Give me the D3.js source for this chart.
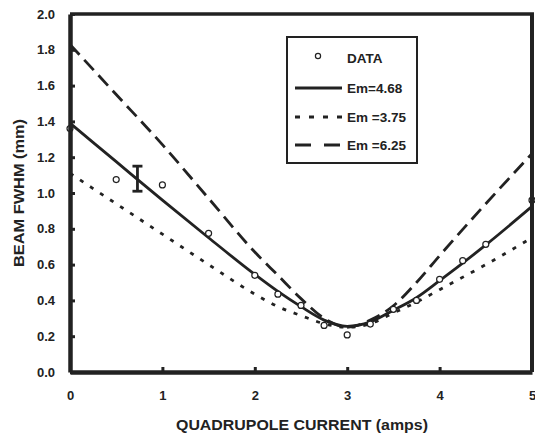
<!DOCTYPE html>
<html>
<head>
<meta charset="utf-8">
<script src="https://cdn.jsdelivr.net/npm/d3@7"></script>
<style>
  html, body { margin: 0; padding: 0; background: #fff; }
  text { font-family: "Liberation Sans", Arial, sans-serif; font-weight: bold; fill: #222; }
</style>
</head>
<body>
<div id="chart"></div>
<script>
// measured points
const dataX = [0, 0.5, 1.0, 1.5, 2.0, 2.25, 2.5, 2.75, 3.0, 3.25, 3.5, 3.75, 4.0, 4.25, 4.5, 5.0];
const dataY = [1.36, 1.075, 1.045, 0.775, 0.54, 0.435, 0.372, 0.26, 0.207, 0.268, 0.35, 0.4, 0.518, 0.622, 0.713, 0.96];

// one error bar
const errX = 0.73;
const errLo = 1.01;
const errHi = 1.15;

// fitted curves
const curveX = [0, 0.5, 1.0, 1.5, 2.0, 2.25, 2.5, 2.75, 3.0, 3.25, 3.5, 3.75, 4.0, 4.5, 5.0];
const em468 = [1.39, 1.175, 0.96, 0.75, 0.545, 0.45, 0.365, 0.29, 0.255, 0.28, 0.345, 0.415, 0.51, 0.71, 0.925];
const em375 = [1.11, 0.94, 0.77, 0.6, 0.435, 0.365, 0.315, 0.27, 0.25, 0.27, 0.33, 0.39, 0.46, 0.6, 0.75];
const em625 = [1.83, 1.55, 1.27, 0.97, 0.67, 0.54, 0.41, 0.3, 0.25, 0.29, 0.37, 0.5, 0.65, 0.94, 1.22];

const xTicks = [0, 1, 2, 3, 4, 5];
const yTicks = [0, 0.2, 0.4, 0.6, 0.8, 1.0, 1.2, 1.4, 1.6, 1.8, 2.0];

const series = [
    {name: "Em=4.68", values: em468, dash: null, legendDash: null},
    {name: "Em =3.75", values: em375, dash: "4,8", legendDash: "5,9"},
    {name: "Em =6.25", values: em625, dash: "14,7", legendDash: "16,13"}
];

const W = 535, H = 437;
const svg = d3.select("#chart").append("svg")
    .attr("width", W)
    .attr("height", H);

const x = d3.scaleLinear().domain([0, 5]).range([70, 532]);
const y = d3.scaleLinear().domain([0, 2]).range([372, 14]);

// curves
const line = d3.line()
    .x((d, i) => x(curveX[i]))
    .y(d => y(d))
    .curve(d3.curveMonotoneX);

series.forEach(s => {
    svg.append("path")
        .attr("d", line(s.values))
        .attr("fill", "none")
        .attr("stroke", "#222")
        .attr("stroke-width", 2.8)
        .attr("stroke-dasharray", s.dash);
});

// error bar
const eg = svg.append("g").attr("stroke", "#222");
eg.append("line")
    .attr("x1", x(errX)).attr("x2", x(errX))
    .attr("y1", y(errLo)).attr("y2", y(errHi))
    .attr("stroke-width", 2.8);
[errLo, errHi].forEach(v => {
    eg.append("line")
        .attr("x1", x(errX) - 5).attr("x2", x(errX) + 5)
        .attr("y1", y(v)).attr("y2", y(v))
        .attr("stroke-width", 2.8);
});

// data points
svg.append("g").selectAll("circle")
    .data(dataX)
    .enter()
    .append("circle")
    .attr("cx", d => x(d))
    .attr("cy", (d, i) => y(dataY[i]))
    .attr("r", 3)
    .attr("fill", "#fff")
    .attr("stroke", "#222")
    .attr("stroke-width", 1.2);

// frame: top and right
svg.append("line")
    .attr("x1", x(0)).attr("x2", x(5) + 2)
    .attr("y1", y(2)).attr("y2", y(2))
    .attr("stroke", "#222").attr("stroke-width", 3.5);
svg.append("line")
    .attr("x1", x(5)).attr("x2", x(5))
    .attr("y1", y(2)).attr("y2", y(0))
    .attr("stroke", "#222").attr("stroke-width", 4);

// axes
const yAxis = svg.append("g")
    .attr("transform", `translate(${x(0)},0)`)
    .call(d3.axisLeft(y).tickValues(yTicks).tickFormat(d3.format(".1f")).tickSizeInner(-5).tickSizeOuter(0).tickPadding(15));
yAxis.select(".domain").attr("stroke", "#222").attr("stroke-width", 4.5);
yAxis.selectAll(".tick line").attr("stroke", "#222").attr("stroke-width", 3);
yAxis.selectAll("text").style("font-size", "13px").style("font-family", "Liberation Sans, Arial, sans-serif").style("font-weight", "bold").attr("fill", "#222");

const xAxis = svg.append("g")
    .attr("transform", `translate(0,${y(0)})`)
    .call(d3.axisBottom(x).tickValues(xTicks).tickFormat(d3.format("d")).tickSizeInner(-5).tickSizeOuter(0).tickPadding(19));
xAxis.select(".domain").attr("stroke", "#222").attr("stroke-width", 4.5);
xAxis.selectAll(".tick line").attr("stroke", "#222").attr("stroke-width", 3)
    .filter(d => d === 0 || d === 5).remove();
xAxis.selectAll("text").style("font-size", "13px").style("font-family", "Liberation Sans, Arial, sans-serif").style("font-weight", "bold").attr("fill", "#222");

// axis titles
svg.append("text")
    .attr("x", 302)
    .attr("y", 430)
    .attr("text-anchor", "middle")
    .attr("textLength", 252)
    .attr("lengthAdjust", "spacingAndGlyphs")
    .style("font-size", "15px")
    .text("QUADRUPOLE CURRENT (amps)");

svg.append("text")
    .attr("transform", `translate(24,${(y(0) + y(2)) / 2}) rotate(-90)`)
    .attr("text-anchor", "middle")
    .attr("textLength", 148)
    .attr("lengthAdjust", "spacingAndGlyphs")
    .style("font-size", "15px")
    .text("BEAM FWHM (mm)");

// legend
const legend = svg.append("g");
legend.append("rect")
    .attr("x", 287).attr("y", 37)
    .attr("width", 130).attr("height", 126)
    .attr("fill", "#fff")
    .attr("stroke", "#222")
    .attr("stroke-width", 2);

legend.append("circle")
    .attr("cx", 318).attr("cy", 56)
    .attr("r", 2.6)
    .attr("fill", "#fff")
    .attr("stroke", "#222")
    .attr("stroke-width", 1.2);
legend.append("text")
    .attr("x", 347).attr("y", 63)
    .style("font-size", "13.5px")
    .text("DATA");

const legendY = [88, 117, 145];
series.forEach((s, i) => {
    legend.append("line")
        .attr("x1", 295).attr("x2", 342)
        .attr("y1", legendY[i]).attr("y2", legendY[i])
        .attr("stroke", "#222")
        .attr("stroke-width", 2.8)
        .attr("stroke-dasharray", s.legendDash);
    legend.append("text")
        .attr("x", 347).attr("y", legendY[i] + 5)
        .style("font-size", "13.5px")
        .text(s.name);
});
</script>
</body>
</html>
